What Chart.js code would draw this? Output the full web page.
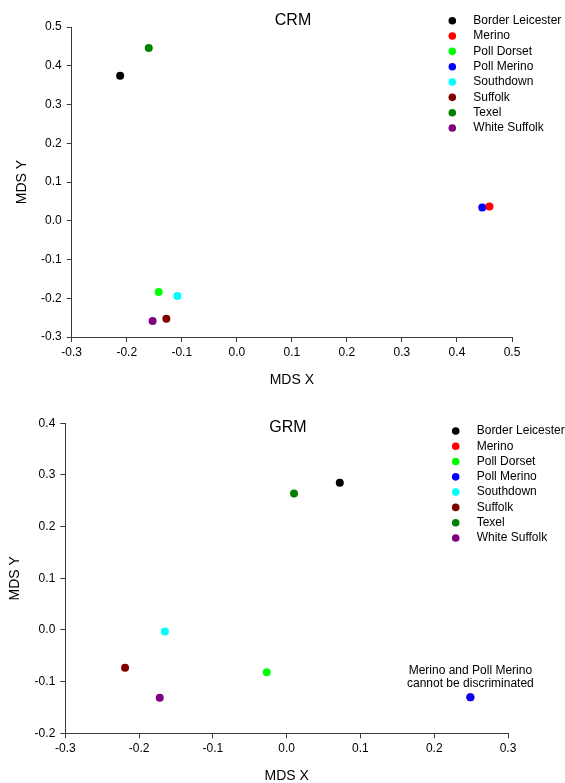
<!DOCTYPE html>
<html>
<head>
<meta charset="utf-8">
<title>CRM / GRM MDS plots</title>
<script src="https://cdn.jsdelivr.net/npm/chart.js@4.4.1/dist/chart.umd.min.js"></script>
<style>
    html, body { margin: 0; padding: 0; background: #fff; }
    .panel { position: absolute; left: 0; width: 565px; }
    #crmBox { top: 0; height: 392px; }
    #grmBox { top: 392px; height: 391px; }
</style>
</head>
<body>
<div class="panel" id="crmBox"><canvas id="crmChart"></canvas></div>
<div class="panel" id="grmBox"><canvas id="grmChart"></canvas></div>
<script>
// Breeds, in legend order
const breeds = ['Border Leicester', 'Merino', 'Poll Dorset', 'Poll Merino',
    'Southdown', 'Suffolk', 'Texel', 'White Suffolk'];
const breedColors = ['#000000', '#ff0000', '#00ff00', '#0000ff',
    '#00ffff', '#800000', '#008000', '#800080'];

// CRM coordinates
const crmX = [-0.212, 0.459, -0.142, 0.446, -0.108, -0.128, -0.160, -0.153];
const crmY = [0.374, 0.037, -0.184, 0.034, -0.194, -0.253, 0.446, -0.259];
const crmXRange = [-0.3, 0.5];
const crmYRange = [-0.3, 0.5];

// GRM coordinates (Merino sits under Poll Merino)
const grmX = [0.072, 0.249, -0.027, 0.249, -0.165, -0.219, 0.010, -0.172];
const grmY = [0.285, -0.130, -0.082, -0.130, -0.003, -0.073, 0.264, -0.131];
const grmXRange = [-0.3, 0.3];
const grmYRange = [-0.2, 0.4];

const grmNote = ['Merino and Poll Merino', 'cannot be discriminated'];

const FONT = 'Arial, "Liberation Sans", sans-serif';
const AXIS = '#3a3a3a';

function fmt(v) {
    return Math.abs(v) < 1e-9 ? '0.0' : v.toFixed(1);
}

// Title, legend and note drawn on the canvas
const sheetText = {
    id: 'sheetText',
    afterDatasetsDraw(chart, args, opts) {
        const ctx = chart.ctx;
        ctx.save();
        ctx.textBaseline = 'middle';

        ctx.fillStyle = '#000';
        ctx.font = '16px ' + FONT;
        ctx.textAlign = 'center';
        ctx.fillText(opts.title, opts.titleX, opts.titleY);

        ctx.font = '12px ' + FONT;
        chart.data.datasets.forEach((ds, i) => {
            const y = opts.legendY + i * opts.legendStep;
            ctx.beginPath();
            ctx.arc(opts.legendX, y, 3.8, 0, Math.PI * 2);
            ctx.fillStyle = ds.backgroundColor;
            ctx.fill();
            ctx.fillStyle = '#000';
            ctx.textAlign = 'left';
            ctx.fillText(ds.label, opts.legendX + 21, y);
        });

        if (opts.note) {
            const i = breeds.indexOf(opts.noteAt);
            const px = chart.scales.x.getPixelForValue(opts.noteXs[i]);
            const py = chart.scales.y.getPixelForValue(opts.noteYs[i]);
            ctx.textAlign = 'center';
            opts.note.forEach((line, k) => {
                ctx.fillText(line, px, py - 26 + k * 12.8);
            });
        }
        ctx.restore();
    }
};

function axis(range, fixedSize, isX, titleText, titlePad) {
    return {
        type: 'linear',
        min: range[0],
        max: range[1],
        afterFit: scale => {
            if (isX) scale.height = fixedSize;
            else scale.width = fixedSize;
        },
        ticks: {
            stepSize: 0.1,
            autoSkip: false,
            maxRotation: 0,
            color: '#000',
            padding: isX ? 3 : 5,
            font: { family: FONT, size: 12 },
            callback: v => fmt(v)
        },
        grid: {
            drawOnChartArea: false,
            drawTicks: true,
            tickLength: 5,
            color: AXIS,
            lineWidth: 1
        },
        border: { display: true, color: AXIS, width: 1 },
        title: {
            display: true,
            text: titleText,
            color: '#000',
            font: { family: FONT, size: 14, lineHeight: 1 },
            padding: isX ? { top: 0, bottom: titlePad } : { top: titlePad, bottom: 0 }
        }
    };
}

function makeScatter(canvasId, xs, ys, xRange, yRange, layout, text, onTop) {
    const datasets = breeds.map((name, i) => ({
        label: name,
        data: [{ x: xs[i], y: ys[i] }],
        backgroundColor: breedColors[i],
        borderColor: breedColors[i],
        borderWidth: 0,
        pointRadius: 4,
        pointHoverRadius: 4,
        order: name === onTop ? -1 : 0
    }));

    return new Chart(document.getElementById(canvasId), {
        type: 'scatter',
        data: { datasets },
        options: {
            responsive: true,
            maintainAspectRatio: false,
            animation: false,
            events: [],
            layout: { padding: layout.padding },
            scales: {
                x: axis(xRange, layout.xHeight, true, 'MDS X', layout.xTitlePad),
                y: axis(yRange, layout.yWidth, false, 'MDS Y', layout.yTitlePad)
            },
            plugins: {
                legend: { display: false },
                tooltip: { enabled: false },
                sheetText: { ...text, noteXs: xs, noteYs: ys }
            }
        },
        plugins: [sheetText]
    });
}

makeScatter('crmChart', crmX, crmY, crmXRange, crmYRange, {
    padding: { left: 0, top: 27, right: 53, bottom: 0 },
    yWidth: 71.7, xHeight: 55, xTitlePad: 5, yTitlePad: 15
}, {
    title: 'CRM', titleX: 293, titleY: 21,
    legendX: 452.3, legendY: 20.7, legendStep: 15.33
}, null);

makeScatter('grmChart', grmX, grmY, grmXRange, grmYRange, {
    padding: { left: 0, top: 31.3, right: 57, bottom: 0 },
    yWidth: 65.3, xHeight: 49.7, xTitlePad: 0, yTitlePad: 8
}, {
    title: 'GRM', titleX: 288, titleY: 36,
    legendX: 455.7, legendY: 39, legendStep: 15.28,
    note: grmNote, noteAt: 'Poll Merino'
}, 'Poll Merino');
</script>
</body>
</html>
